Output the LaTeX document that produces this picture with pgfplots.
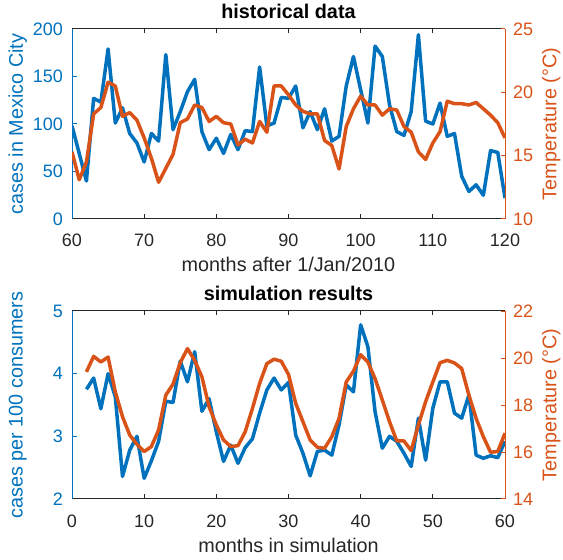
\documentclass[border=0pt]{standalone}
\usepackage{fontspec}
\setmainfont{Liberation Sans}
\usepackage{pgfplots}
\pgfplotsset{compat=1.18}

\definecolor{mblue}{RGB}{0,114,189}
\definecolor{morange}{RGB}{217,83,25}
\definecolor{mgray}{RGB}{38,38,38}

\newcommand\tickfont{\fontsize{18bp}{20bp}\selectfont}
\newcommand\labfont{\fontsize{19.8bp}{22bp}\selectfont}

\pgfplotsset{
  common/.style={
    scale only axis, width=433bp,
    /pgf/number format/assume math mode=true,
    separate axis lines,
    tick align=inside, major tick length=4.5bp,
    tick label style={font=\tickfont},
    label style={font=\labfont},
    every axis plot/.append style={line width=3.5bp, line join=round},
    clip=true,
  },
  leftax/.style={common,
    axis y line*=left, axis x line*=box,
    y axis line style={draw=mblue, line width=1bp},
    x axis line style={draw=mgray, line width=1bp},
    y tick style={draw=mblue, line width=1bp},
    x tick style={draw=mgray, line width=1bp},
    yticklabel style={color=mblue, inner sep=0pt, xshift=-9bp},
    xticklabel style={color=mgray, anchor=base, inner sep=0pt, yshift=-28bp},
    ylabel style={color=mblue, at={(axis description cs:-0.125,0.5)}, anchor=center},
    xlabel style={color=mgray, at={(axis description cs:0.5,0)}, anchor=base, yshift=-53bp},
    title style={font=\labfont\bfseries, at={(axis description cs:0.5,1)}, anchor=base, yshift=4.5bp},
  },
  rightax/.style={common,
    axis y line*=right, axis x line=none,
    y axis line style={draw=morange, line width=1bp},
    y tick style={draw=morange, line width=1bp},
    yticklabel style={color=morange, inner sep=0pt, xshift=8bp},
    ylabel style={color=morange, at={(axis description cs:1.107,0.5)}, anchor=center, rotate=0},
  },
}

\begin{document}
\begin{tikzpicture}
% historical data
\begin{axis}[leftax, at={(72bp,341bp)}, height=190bp,
  xmin=60, xmax=120, ymin=0, ymax=200,
  xtick={60,70,...,120}, ytick={0,50,...,200},
  ylabel={cases in Mexico City}, xlabel={months after 1/Jan/2010},
  title={historical data}]
\addplot[mblue] coordinates {
(60,98) (61,69) (62,40) (63,127) (64,123) (65,179) (66,101) (67,117) (68,90) (69,80)
(70,60) (71,90) (72,82) (73,173) (74,94) (75,113) (76,134) (77,147) (78,92) (79,73)
(80,85) (81,69) (82,89) (83,73) (84,93) (85,92) (86,160) (87,98) (88,101) (89,128)
(90,127) (91,140) (92,96) (93,113) (94,94) (95,116) (96,82) (97,87) (98,140) (99,171)
(100,136) (101,101) (102,182) (103,171) (104,120) (105,92) (106,88) (107,113) (108,194) (109,103)
(110,100) (111,122) (112,87) (113,90) (114,45) (115,29) (116,36) (117,25) (118,72) (119,70)
(120,22)};
\end{axis}
\begin{axis}[rightax, at={(72bp,341bp)}, height=190bp,
  xmin=60, xmax=120, ymin=10, ymax=25,
  ytick={10,15,...,25},
  ylabel={Temperature (°C)}]
\addplot[morange] coordinates {
(60,15.3) (61,13.1) (62,14.5) (63,18.3) (64,18.8) (65,20.8) (66,20.5) (67,18.1) (68,18.4) (69,17.8)
(70,16.4) (71,14.8) (72,12.9) (73,14.0) (74,15.1) (75,17.6) (76,17.9) (77,19.0) (78,18.8) (79,17.7)
(80,18.1) (81,17.6) (82,17.5) (83,15.85) (84,16.3) (85,16.0) (86,17.7) (87,16.85) (88,20.5) (89,20.5)
(90,19.8) (91,19.0) (92,18.5) (93,18.3) (94,18.3) (95,16.2) (96,15.8) (97,13.95) (98,17.3) (99,18.7)
(100,19.7) (101,19.0) (102,19.0) (103,18.2) (104,18.7) (105,18.6) (106,17.3) (107,16.85) (108,15.3) (109,14.7)
(110,16.0) (111,16.9) (112,19.3) (113,19.1) (114,19.1) (115,19.0) (116,19.2) (117,18.7) (118,18.2) (119,17.6)
(120,16.4)};
\end{axis}

% simulation results
\begin{axis}[leftax, at={(72bp,61bp)}, height=188bp,
  xmin=0, xmax=60, ymin=2, ymax=5,
  xtick={0,10,...,60}, ytick={2,3,4,5},
  ylabel={cases per 100 consumers}, xlabel={months in simulation},
  title={simulation results}]
\addplot[mblue] coordinates {
(2,3.75) (3,3.93) (4,3.44) (5,4.0) (6,3.63) (7,2.36) (8,2.78) (9,3.0)
(10,2.33) (11,2.61) (12,2.92) (13,3.56) (14,3.54) (15,4.2) (16,3.87) (17,4.35) (18,3.4) (19,3.6)
(20,3.07) (21,2.6) (22,2.86) (23,2.57) (24,2.82) (25,2.96) (26,3.37) (27,3.74) (28,3.93) (29,3.74)
(30,3.86) (31,3.02) (32,2.73) (33,2.37) (34,2.76) (35,2.78) (36,2.70) (37,3.18) (38,3.82) (39,3.71)
(40,4.78) (41,4.43) (42,3.39) (43,2.81) (44,3.0) (45,2.92) (46,2.73) (47,2.52) (48,3.29) (49,2.62)
(50,3.45) (51,3.87) (52,3.87) (53,3.37) (54,3.29) (55,3.66) (56,2.70) (57,2.65) (58,2.69) (59,2.66)
(60,2.92)};
\end{axis}
\begin{axis}[rightax, at={(72bp,61bp)}, height=188bp,
  xmin=0, xmax=60, ymin=14, ymax=22,
  ytick={14,16,...,22},
  ylabel={Temperature (°C)}]
\addplot[morange] coordinates {
(2,19.41) (3,20.07) (4,19.83) (5,20.04) (6,18.56) (7,17.5) (8,16.72) (9,16.33)
(10,16.02) (11,16.23) (12,16.94) (13,18.42) (14,18.89) (15,19.8) (16,20.4) (17,19.9) (18,19.2) (19,17.92)
(20,17.15) (21,16.51) (22,16.23) (23,16.27) (24,16.86) (25,17.85) (26,18.92) (27,19.76) (28,19.95) (29,19.86)
(30,19.3) (31,18.07) (32,17.29) (33,16.51) (34,16.2) (35,16.16) (36,16.65) (37,17.43) (38,18.98) (39,19.44)
(40,20.14) (41,19.83) (42,19.12) (43,18.21) (44,17.29) (45,16.47) (46,16.47) (47,16.06) (48,17.15) (49,18.14)
(50,18.98) (51,19.8) (52,19.9) (53,19.79) (54,19.55) (55,18.42) (56,17.43) (57,16.65) (58,15.99) (59,16.02)
(60,16.8)};
\end{axis}
\pgfresetboundingbox
\useasboundingbox (0,0) rectangle (563bp,560bp);
\end{tikzpicture}
\end{document}
